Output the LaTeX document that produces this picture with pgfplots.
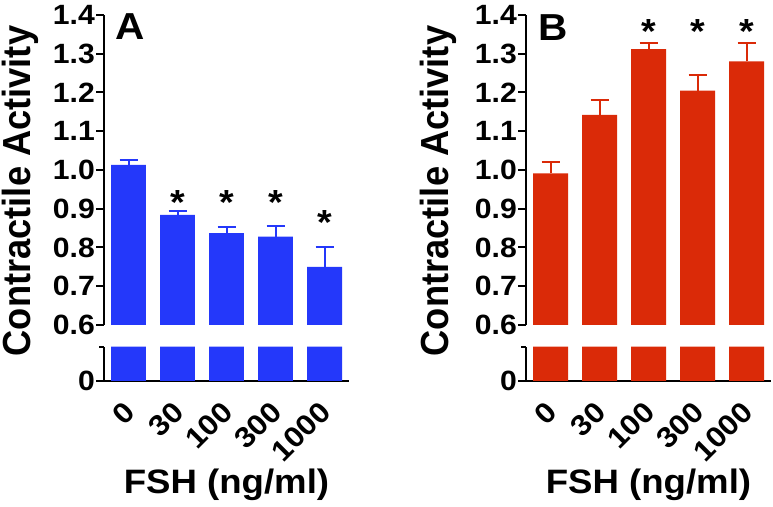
\documentclass[border=0pt]{standalone}
\usepackage{fontspec}
\setmainfont{Liberation Sans}[FakeStretch=1.08]
\newfontfamily\ylabfont{Liberation Sans}
\usepackage{pgfplots}
\pgfplotsset{compat=1.18}
\usepackage{pgfplotstable}
\definecolor{cblue}{RGB}{36,56,250}
\definecolor{cred}{RGB}{218,42,8}

\pgfplotstableread{
x y e
0 1.013 0.013
1 0.884 0.010
2 0.837 0.017
3 0.828 0.027
4 0.750 0.050
}\dataA
\pgfplotstableread{
x y e
0 0.991 0.029
1 1.142 0.039
2 1.312 0.016
3 1.205 0.039
4 1.280 0.048
}\dataB
\pgfplotstableread{
x y
0 1
1 1
2 1
3 1
4 1
}\dataLow

\newcommand\tickfont{\fontsize{28}{28}\selectfont\bfseries}
\newcommand\xtickfont{\fontsize{29}{29}\selectfont\bfseries}
\newcommand\astfont{\fontsize{35}{35}\selectfont\bfseries}

\pgfplotsset{
 common/.style={scale only axis, width=245bp, xmin=-0.5, xmax=4.5, enlargelimits=false,
   axis line style={line width=2bp, black}, tick style={line width=2bp, black},
   major tick length=8bp, tick align=outside, tick label style={font=\tickfont},
   /pgf/number format/assume math mode=true},
 upper/.style={common, at={(#1 bp,182bp)}, anchor=south west, height=310bp, ymin=0.6, ymax=1.4,
   axis y line*=left, axis x line=none, xtick=\empty,
   ytick={0.6,0.7,0.8,0.9,1.0,1.1,1.2,1.3,1.4},
   yticklabel style={inner sep=1bp, /pgf/number format/.cd, fixed, fixed zerofill, precision=1}},
 lower/.style={common, at={(#1 bp,126bp)}, anchor=south west, height=34.3bp, ymin=0, ymax=1,
   axis y line*=left, axis x line*=bottom, ytick={0}, yticklabel style={inner sep=1bp},
   extra y ticks={1}, extra y tick labels={}, extra y tick style={major tick length=5bp},
   xtick={0,1,2,3,4}, xticklabels={0,30,100,300,1000}, x tick style={draw=none},
   xticklabel style={font=\xtickfont, xshift=1bp, yshift=-18bp, rotate=45, anchor=east, inner sep=0pt}},
 barsty/.style={ybar, bar width=0.714, fill=#1, draw=none},
 errsty/.style={error bars/.cd, y dir=plus, y explicit,
   error bar style={line width=2bp, #1},
   error mark options={rotate=90, line width=2bp, #1, mark size=9bp}},
}

\begin{document}
\begin{tikzpicture}[x=1bp, y=1bp]
\useasboundingbox (0,0) rectangle (773,507);
% Panel A
\begin{axis}[upper=104]
\addplot[barsty=cblue, errsty=cblue] table[x=x, y=y, y error=e] {\dataA};
\node[font=\astfont, anchor=north, inner sep=0pt] at (axis cs:1,0.948) {*};
\node[font=\astfont, anchor=north, inner sep=0pt] at (axis cs:2,0.948) {*};
\node[font=\astfont, anchor=north, inner sep=0pt] at (axis cs:3,0.948) {*};
\node[font=\astfont, anchor=north, inner sep=0pt] at (axis cs:4,0.895) {*};
\end{axis}
\begin{axis}[lower=104]
\addplot[barsty=cblue] table[x=x, y=y] {\dataLow};
\end{axis}
% Panel B
\begin{axis}[upper=526]
\addplot[barsty=cred, errsty=cred] table[x=x, y=y, y error=e] {\dataB};
\node[font=\astfont, anchor=north, inner sep=0pt] at (axis cs:2,1.389) {*};
\node[font=\astfont, anchor=north, inner sep=0pt] at (axis cs:3,1.389) {*};
\node[font=\astfont, anchor=north, inner sep=0pt] at (axis cs:4,1.389) {*};
\end{axis}
\begin{axis}[lower=526]
\addplot[barsty=cred] table[x=x, y=y] {\dataLow};
\end{axis}
% labels
\node[xscale=1.08, rotate=90, inner sep=0pt, font=\ylabfont\fontsize{36.4}{36}\selectfont\bfseries] at (20,316) {Contractile Activity};
\node[xscale=1.08, rotate=90, inner sep=0pt, font=\ylabfont\fontsize{36.4}{36}\selectfont\bfseries] at (438,316) {Contractile Activity};
\node[inner sep=0pt, font=\fontsize{37.7}{38}\selectfont\bfseries] at (130.5,480.5) {A};
\node[inner sep=0pt, font=\fontsize{37.7}{38}\selectfont\bfseries] at (553.5,479.5) {B};
\node[anchor=base, inner sep=0pt, font=\fontsize{34}{34}\selectfont\bfseries] at (226.5,13) {FSH (ng/ml)};
\node[anchor=base, inner sep=0pt, font=\fontsize{34}{34}\selectfont\bfseries] at (648.5,13) {FSH (ng/ml)};
\end{tikzpicture}
\end{document}
